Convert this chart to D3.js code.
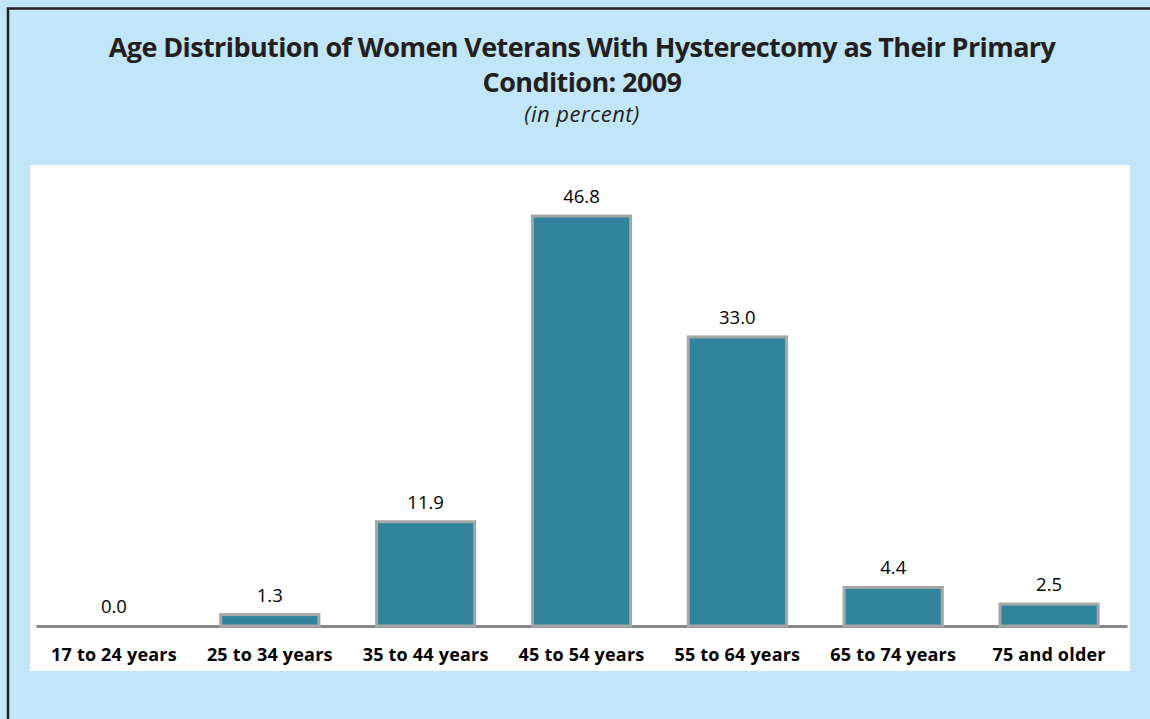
<!DOCTYPE html>
<html><head><meta charset="utf-8">
<script src="https://cdn.jsdelivr.net/npm/d3@7"></script>
<style>html,body{margin:0;padding:0;background:#c2e6f8;}svg{display:block;}</style>
</head><body>
<script>
const categories = ["17 to 24 years","25 to 34 years","35 to 44 years","45 to 54 years","55 to 64 years","65 to 74 years","75 and older"];
const values = [0.0, 1.3, 11.9, 46.8, 33.0, 4.4, 2.5];
const valueLabels = ["0.0","1.3","11.9","46.8","33.0","4.4","2.5"];
const titleLines = ["Age Distribution of Women Veterans With Hysterectomy as Their Primary","Condition: 2009"];
const subtitle = "(in percent)";

const W = 1150, H = 719;
const svg = d3.select("body").append("svg").attr("width", W).attr("height", H);
svg.append("rect").attr("width", W).attr("height", H).attr("fill", "#c2e6f8");
// frame
svg.append("rect").attr("x", 8).attr("y", 8.5).attr("width", W + 10).attr("height", H + 10)
  .attr("fill", "none").attr("stroke", "#231f20").attr("stroke-width", 2.5);
// white plot area
svg.append("rect").attr("x", 30).attr("y", 165).attr("width", 1100).attr("height", 506).attr("fill", "#ffffff");

svg.selectAll("text.title").data(titleLines).join("text")
  .attr("class", "title")
  .attr("x", 582).attr("y", (d, i) => 57 + i * 35)
  .attr("text-anchor", "middle")
  .attr("font-family", "'Open Sans', sans-serif").attr("font-weight", "bold")
  .attr("font-size", 27).attr("letter-spacing", -0.6).attr("fill", "#231f20")
  .text(d => d);
svg.append("text").attr("x", 582).attr("y", 122).attr("text-anchor", "middle")
  .attr("font-family", "'Open Sans', sans-serif").attr("font-style", "italic")
  .attr("font-size", 22).attr("letter-spacing", 0.5).attr("fill", "#231f20").text(subtitle);

const x = d3.scaleBand().domain(categories).range([36, 1127]).paddingInner(0.37).paddingOuter(0.185);
const y = d3.scaleLinear().domain([0, 50]).range([626, 188]);

const g = svg.append("g");
g.selectAll("rect.bar").data(values).join("rect")
  .attr("class", "bar")
  .attr("x", (d, i) => x(categories[i]))
  .attr("y", d => y(d))
  .attr("width", x.bandwidth())
  .attr("height", d => y(0) - y(d))
  .attr("fill", "#31849b").attr("stroke", "#a6a6a6").attr("stroke-width", 3);

g.selectAll("text.val").data(values).join("text")
  .attr("class", "val")
  .attr("x", (d, i) => x(categories[i]) + x.bandwidth() / 2)
  .attr("y", d => y(d) - 13)
  .attr("text-anchor", "middle")
  .attr("font-family", "'Open Sans', sans-serif").attr("font-size", 18.5).attr("fill", "#000")
  .text((d, i) => valueLabels[i]);

const axis = d3.axisBottom(x).tickSize(0).tickPadding(0);
const ax = svg.append("g").attr("transform", "translate(0,626)").call(axis);
ax.select(".domain").attr("stroke", "#898989").attr("stroke-width", 3);
ax.selectAll("text").attr("font-family", "'Open Sans', sans-serif").attr("font-weight", "bold")
  .attr("font-size", 18).attr("letter-spacing", 0.2).attr("fill", "#000").attr("y", 35).attr("dy", null);
// re-draw zero bar outline on top of the axis line
g.raise();
</script>
</body></html>
